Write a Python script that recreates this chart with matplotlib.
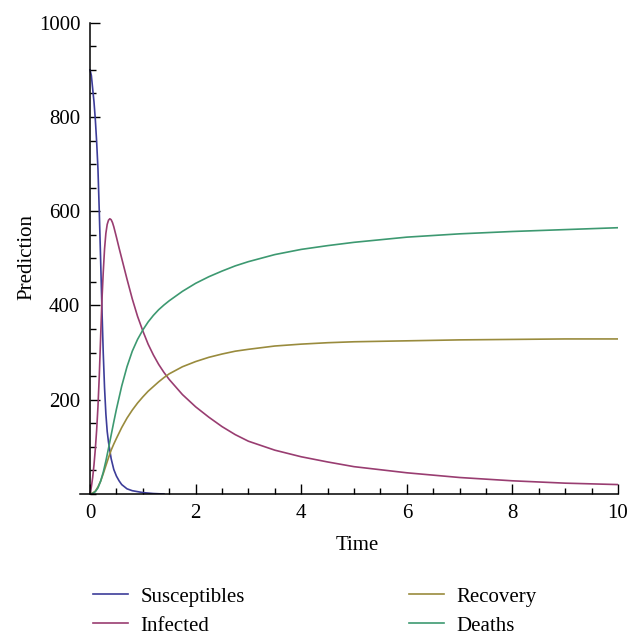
import numpy as np
import matplotlib.pyplot as plt
from matplotlib.ticker import MultipleLocator

# values
t_s = [0, 0.025, 0.05, 0.075, 0.1, 0.125, 0.15, 0.175, 0.2, 0.225, 0.25,
       0.275, 0.3, 0.325, 0.35, 0.4, 0.45, 0.5, 0.55, 0.6, 0.7, 0.8, 0.9,
       1.0, 1.2, 1.4]
susceptibles = [900, 888, 860, 832, 795, 748, 690, 600, 500, 395, 300, 225,
                170, 133, 110, 75, 52, 38, 28, 20, 11, 7, 5, 3, 1, 0]

t_i = [0, 0.025, 0.05, 0.075, 0.1, 0.125, 0.15, 0.175, 0.2, 0.225, 0.25,
       0.275, 0.3, 0.325, 0.35, 0.375, 0.4, 0.425, 0.45, 0.5, 0.55, 0.6, 0.7,
       0.8, 0.9, 1.0, 1.1, 1.2, 1.3, 1.4, 1.5, 1.75, 2.0, 2.25, 2.5, 2.75,
       3.0, 3.5, 4, 4.5, 5, 6, 7, 8, 9, 10]
infected = [0, 15, 35, 62, 95, 135, 185, 250, 330, 410, 470, 520, 553, 572,
            581, 584, 582, 576, 567, 545, 522, 500, 456, 414, 377, 346, 318,
            295, 275, 258, 243, 211, 185, 163, 143, 126, 112, 93, 79, 68, 58,
            45, 35, 28, 23, 20]

t_rd = [0, 0.05, 0.1, 0.15, 0.2, 0.25, 0.3, 0.35, 0.4, 0.45, 0.5, 0.6, 0.7,
        0.8, 0.9, 1.0, 1.1, 1.2, 1.3, 1.4, 1.5, 1.75, 2.0, 2.25, 2.5, 2.75,
        3.0, 3.5, 4, 4.5, 5, 6, 7, 8, 9, 10]
recovery = [0, 2, 6, 15, 27, 43, 60, 77, 93, 106, 118, 141, 161, 178, 193,
            206, 218, 228, 238, 247, 255, 270, 281, 290, 297, 303, 307, 314,
            318, 321, 323, 325, 327, 328, 329, 329]
deaths = [0, 1, 5, 13, 27, 46, 70, 97, 125, 153, 180, 229, 270, 303, 328,
          348, 365, 379, 391, 401, 410, 430, 447, 461, 473, 484, 493, 508,
          519, 527, 534, 545, 552, 557, 561, 565]

x_ticks = [0, 2, 4, 6, 8, 10]
y_ticks = [200, 400, 600, 800, 1000]

colors = ['#3d3d99', '#993d71', '#998b3d', '#3d9971']

plt.rcParams['font.family'] = ['Liberation Serif', 'DejaVu Serif']

fig = plt.figure(figsize=(6.42, 6.44), dpi=100)
ax = fig.add_axes([80 / 642, 1 - 494 / 644, 538 / 642, (494 - 22.7) / 644])

l1, = ax.plot(t_s, susceptibles, color=colors[0], lw=1.2)
l2, = ax.plot(t_i, infected, color=colors[1], lw=1.2)
l3, = ax.plot(t_rd, recovery, color=colors[2], lw=1.2)
l4, = ax.plot(t_rd, deaths, color=colors[3], lw=1.2)

ax.set_xlim(-0.19, 10)
ax.set_ylim(0, 1000)
for s in ['top', 'right']:
    ax.spines[s].set_visible(False)
ax.spines['left'].set_position(('data', 0))
ax.spines['left'].set_linewidth(1.1)
ax.spines['bottom'].set_linewidth(1.1)

ax.set_xticks(x_ticks)
ax.set_yticks(y_ticks)
ax.xaxis.set_minor_locator(MultipleLocator(0.5))
ax.yaxis.set_minor_locator(MultipleLocator(50))
ax.tick_params(which='both', direction='in', width=1.0, labelsize=15)
ax.tick_params(which='major', length=7)
ax.tick_params(which='minor', length=4)
ax.tick_params(axis='x', pad=7)
ax.tick_params(axis='y', pad=7)

fig.text(357 / 642, 1 - 545 / 644, 'Time', fontsize=15, ha='center', va='center')
fig.text(27 / 642, 1 - 257 / 644, 'Prediction', fontsize=15, ha='center',
         va='center', rotation=90)

leg_kw = dict(loc='upper left', frameon=False, fontsize=15, handlelength=1.69,
              handletextpad=0.58, borderpad=0, borderaxespad=0,
              labelspacing=0.46)
fig.legend([l1, l2], ['Susceptibles', 'Infected'],
           bbox_to_anchor=(93 / 642, 1 - 587 / 644), **leg_kw)
fig.legend([l3, l4], ['Recovery', 'Deaths'],
           bbox_to_anchor=(409 / 642, 1 - 587 / 644), **leg_kw)

fig.savefig('out.png', dpi=100)
